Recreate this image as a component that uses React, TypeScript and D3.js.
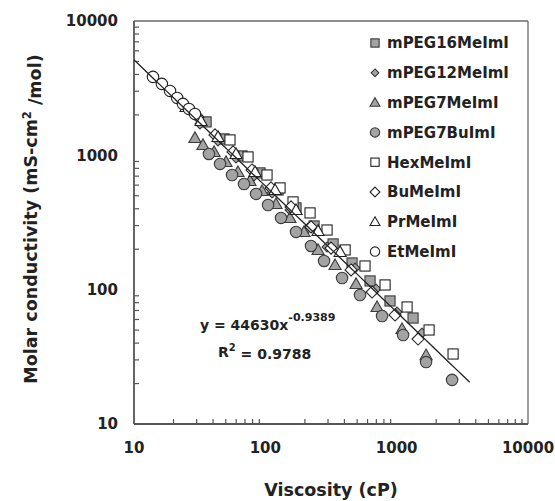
import React from "react";
import * as d3 from "d3";

const W = 555;
const H = 501;

type Pt = [number, number];

const seriesNames = [
  "mPEG16MeImI",
  "mPEG12MeImI",
  "mPEG7MeImI",
  "mPEG7BuImI",
  "HexMeImI",
  "BuMeImI",
  "PrMeImI",
  "EtMeImI",
];

const mPEG16MeImI: Pt[] = [
  [35.4, 1774], [48.5, 1325], [66.4, 990], [91.1, 740], [125, 552], [171.3, 406],
  [235, 298], [328, 219], [457.5, 158], [627, 116.1], [890, 82.4], [1333, 61.5],
];
const mPEG12MeImI: Pt[] = [
  [31.8, 1713], [43.6, 1280], [59.8, 956], [82, 702], [112.5, 525], [154, 392],
  [211.4, 288], [295, 208], [482, 145], [697, 101.2], [1007, 68.2], [1561, 47.6],
];
const mPEG7MeImI: Pt[] = [
  [29.1, 1348], [33.5, 1195], [40.7, 1060], [50.2, 893], [61.9, 752], [76.4, 645],
  [94.4, 543], [120.6, 434.5], [154, 342], [197, 269], [252, 197.6], [339.5, 152.7],
  [490.6, 110.3], [709, 74.3], [1099, 51.0], [1675, 32.6],
];
const mPEG7BuImI: Pt[] = [
  [37.2, 1024], [45.2, 863], [55.8, 714], [68.8, 612], [85.0, 516], [104.9, 427],
  [131.7, 342], [171.3, 269], [222.8, 211.5], [280, 163.6], [384, 122.2], [526, 91.3],
  [774, 63.7], [1119, 46.0], [1675, 28.9], [2642, 21.3],
];
const HexMeImI: Pt[] = [
  [53.8, 1302], [73.8, 973], [103, 714], [129.4, 572], [162.5, 450], [219, 372.6],
  [295, 278], [405, 197.6], [574, 150], [816, 108.4], [1200, 74.3], [1765, 50.1], [2689, 33.2],
];
const BuMeImI: Pt[] = [
  [30.7, 1932], [41.4, 1419], [56.8, 1060], [79.2, 778], [110.5, 572], [157, 413],
  [223, 293], [316.6, 204], [449.5, 140.2], [650, 96.1], [972, 64.8], [1455, 42.9],
];
const PrMeImI: Pt[] = [
  [24.9, 2293], [32.4, 1804], [43.6, 1371], [59.8, 1024], [83.5, 752], [118.6, 552],
  [171.3, 392], [252, 273.6], [370.7, 190.9],
];
const EtMeImI: Pt[] = [
  [13.95, 3837], [16.3, 3404], [18.8, 3017], [21.3, 2676], [23.6, 2415], [26.2, 2215], [29.1, 2033],
];

const seriesData: Pt[][] = [
  mPEG16MeImI, mPEG12MeImI, mPEG7MeImI, mPEG7BuImI, HexMeImI, BuMeImI, PrMeImI, EtMeImI,
];

type Shape = "square" | "diamond" | "triangle" | "circle";
const seriesShapes: Shape[] = [
  "square", "diamond", "triangle", "circle", "square", "diamond", "triangle", "circle",
];
const seriesFilled: boolean[] = [true, true, true, true, false, false, false, false];

const xTicks = [10, 100, 1000, 10000];
const yTicks = [10, 100, 1000, 10000];

const fitA = 44630;
const fitB = -0.9389;
const fitRange: [number, number] = [10, 3600];

const FONT = "'DejaVu Sans', 'Open Sans', sans-serif";

const left = 134, right = 528, top = 21, bottom = 424;

function Marker({ shape, x, y, filled, s }: { shape: Shape; x: number; y: number; filled: boolean; s: number }) {
  const fill = filled ? "#a3a3a3" : "#ffffff";
  const stroke = filled ? "#3a3a3a" : "#222222";
  const sw = 1.1;
  if (shape === "circle") {
    return <circle cx={x} cy={y} r={s * 0.52} fill={fill} stroke={stroke} strokeWidth={sw} />;
  }
  if (shape === "square") {
    const h = s * 0.46;
    return <rect x={x - h} y={y - h} width={2 * h} height={2 * h} fill={fill} stroke={stroke} strokeWidth={sw} />;
  }
  if (shape === "diamond") {
    const h = s * 0.55;
    return (
      <path d={`M${x},${y - h}L${x + h},${y}L${x},${y + h}L${x - h},${y}Z`} fill={fill} stroke={stroke} strokeWidth={sw} />
    );
  }
  const h = s * 0.55;
  return (
    <path
      d={`M${x},${y - h}L${x + h},${y + h * 0.75}L${x - h},${y + h * 0.75}Z`}
      fill={fill}
      stroke={stroke}
      strokeWidth={sw}
    />
  );
}

export default function App() {
  const x = d3.scaleLog().domain([10, 10000]).range([left, right]);
  const y = d3.scaleLog().domain([10, 10000]).range([bottom, top]);

  const minor: number[] = [];
  for (const d of [10, 100, 1000]) for (let k = 2; k <= 9; k++) minor.push(d * k);

  const fitPts: Pt[] = d3.range(0, 51).map((i) => {
    const lx = Math.log10(fitRange[0]) + (i / 50) * (Math.log10(fitRange[1]) - Math.log10(fitRange[0]));
    const xv = Math.pow(10, lx);
    return [xv, fitA * Math.pow(xv, fitB)];
  });
  const line = d3
    .line<Pt>()
    .x((d) => x(d[0]))
    .y((d) => y(d[1]));

  const legendX = 375;
  const legendY0 = 43;
  const legendDy = 29.8;

  return (
    <svg width={W} height={H} style={{ position: "absolute", left: 0, top: 0, background: "#fff" }} fontFamily={FONT}>
      <rect x={0} y={0} width={W} height={H} fill="#ffffff" />
      {/* frame */}
      <line x1={left} y1={top} x2={right} y2={top} stroke="#6a6a6a" strokeWidth={1.3} />
      <line x1={right} y1={top} x2={right} y2={bottom} stroke="#6a6a6a" strokeWidth={1.3} />
      <line x1={left} y1={top} x2={left} y2={bottom} stroke="#555" strokeWidth={1.8} />
      <line x1={left} y1={bottom} x2={right} y2={bottom} stroke="#555" strokeWidth={1.8} />
      {/* minor ticks */}
      {minor.map((v) => (
        <g key={"m" + v}>
          <line x1={left} x2={left + 5} y1={y(v)} y2={y(v)} stroke="#555" strokeWidth={1.2} />
          <line x1={x(v)} x2={x(v)} y1={bottom} y2={bottom - 5} stroke="#555" strokeWidth={1.2} />
        </g>
      ))}
      {/* tick labels */}
      {yTicks.map((v) => (
        <text key={"y" + v} x={118} y={y(v)} dy="0.36em" textAnchor="end" fontSize={15} fontWeight={700} fill="#222">
          {v}
        </text>
      ))}
      {xTicks.map((v) => (
        <text key={"x" + v} x={x(v)} y={448} dy="0.36em" textAnchor="middle" fontSize={15} fontWeight={700} fill="#222">
          {v}
        </text>
      ))}
      {/* axis titles */}
      <text x={(left + right) / 2} y={490} dy="0.36em" textAnchor="middle" fontSize={17.5} fontWeight={700} fill="#222">
        Viscosity (cP)
      </text>
      <text
        transform={`translate(31,219) rotate(-90)`}
        dy="0.36em"
        textAnchor="middle"
        fontSize={17.5}
        fontWeight={700}
        fill="#222"
      >
        Molar conductivity (mS-cm
        <tspan dy="-0.55em" fontSize={11.5}>2</tspan>
        <tspan dy="0.55em"> /mol)</tspan>
      </text>
      {/* data */}
      {seriesData.map((pts, si) =>
        pts.map((p, i) => (
          <Marker
            key={si + "-" + i}
            shape={seriesShapes[si]}
            x={x(p[0])}
            y={y(p[1])}
            filled={seriesFilled[si]}
            s={seriesShapes[si] === "diamond" && si === 1 ? 9 : 11}
          />
        ))
      )}
      {/* fit */}
      <path d={line(fitPts) || ""} fill="none" stroke="#222" strokeWidth={1.3} />
      {/* equation */}
      <text x={200} y={330} fontSize={14} fontWeight={700} fill="#222">
        y = 44630x
        <tspan dy="-0.8em" fontSize={11}>-0.9389</tspan>
      </text>
      <text x={218} y={357} fontSize={14} fontWeight={700} fill="#222">
        R<tspan dy="-0.6em" fontSize={10}>2</tspan>
        <tspan dy="0.6em"> = 0.9788</tspan>
      </text>
      {/* legend */}
      {seriesNames.map((n, i) => (
        <g key={n}>
          <Marker shape={seriesShapes[i]} x={legendX} y={legendY0 + i * legendDy} filled={seriesFilled[i]} s={i === 1 ? 7 : 9} />
          <text x={387} y={legendY0 + i * legendDy} dy="0.36em" fontSize={15} fontWeight={700} fill="#222">
            {n}
          </text>
        </g>
      ))}
    </svg>
  );
}
